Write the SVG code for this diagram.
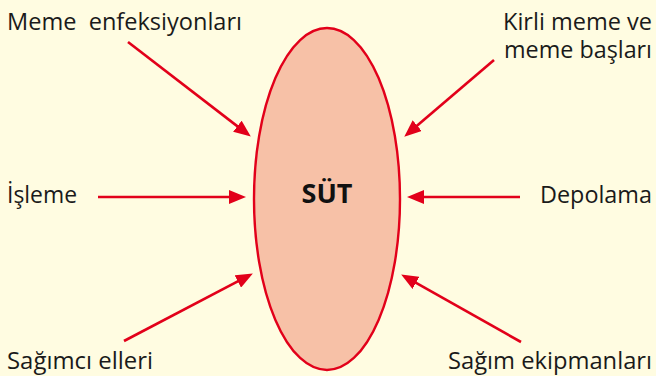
<svg xmlns="http://www.w3.org/2000/svg" width="656" height="376" viewBox="0 0 656 376">
<style>
.lbl{font-family:"Open Sans","Noto Sans",sans-serif;font-size:23.5px;fill:#1a1a1a}
.ttl{font-family:"Open Sans","Noto Sans",sans-serif;font-size:27px;font-weight:bold;fill:#111}
.con{stroke:#E2001A;stroke-width:2.6;fill:none}
</style>
<defs>
<marker id="ah" markerUnits="userSpaceOnUse" markerWidth="17" markerHeight="14" refX="8" refY="7" orient="auto" viewBox="0 0 17 14">
<path d="M0,0 L17,7 L0,14 z" fill="#E2001A"/>
</marker>
</defs>
<rect width="656" height="376" fill="#FFFCE1"/>
<g id="sut">
<ellipse cx="327" cy="199" rx="73" ry="171" fill="#F7C1A7" stroke="#E2001A" stroke-width="2.4"/>
<text class="ttl" x="327" y="203" text-anchor="middle">SÜT</text>
</g>
<g id="meme-enfeksiyonlari"><text class="lbl" x="7" y="30" textLength="235" lengthAdjust="spacingAndGlyphs" xml:space="preserve">Meme  enfeksiyonları</text></g>
<g id="kirli-meme"><text class="lbl" x="503" y="30" textLength="149" lengthAdjust="spacingAndGlyphs">Kirli meme ve</text><text class="lbl" x="504" y="58" textLength="148" lengthAdjust="spacingAndGlyphs">meme başları</text></g>
<g id="isleme"><text class="lbl" x="7" y="203" textLength="70" lengthAdjust="spacingAndGlyphs">İşleme</text></g>
<g id="depolama"><text class="lbl" x="540" y="203" textLength="112" lengthAdjust="spacingAndGlyphs">Depolama</text></g>
<g id="sagimci-elleri"><text class="lbl" x="7" y="369" textLength="146" lengthAdjust="spacingAndGlyphs">Sağımcı elleri</text></g>
<g id="sagim-ekipmanlari"><text class="lbl" x="448" y="369" textLength="204" lengthAdjust="spacingAndGlyphs">Sağım ekipmanları</text></g>
<g id="connectors">
<line class="con" x1="128" y1="42" x2="243.7" y2="131.1" marker-end="url(#ah)"/>
<line class="con" x1="494" y1="60" x2="411.1" y2="130.8" marker-end="url(#ah)"/>
<line class="con" x1="98" y1="197" x2="237" y2="197" marker-end="url(#ah)"/>
<line class="con" x1="520" y1="197" x2="416" y2="197" marker-end="url(#ah)"/>
<line class="con" x1="124" y1="341" x2="244.9" y2="277.7" marker-end="url(#ah)"/>
<line class="con" x1="521" y1="342" x2="409" y2="278.9" marker-end="url(#ah)"/>
</g>
</svg>
